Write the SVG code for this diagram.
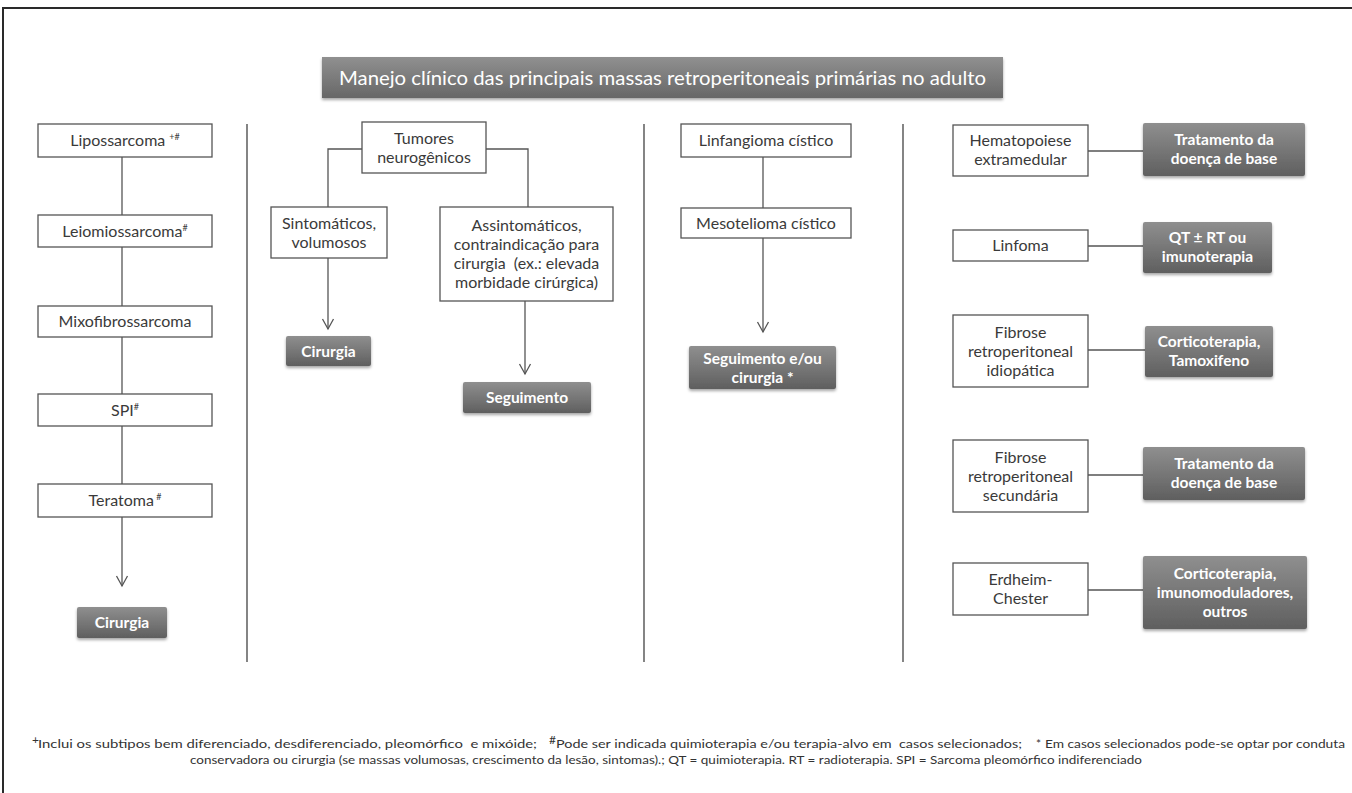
<svg xmlns="http://www.w3.org/2000/svg" width="1352" height="793" viewBox="0 0 1352 793">
<style>
.box{fill:#fff;stroke:#555;stroke-width:1.3}
.dark{fill:url(#gd);filter:url(#sh)}
.t{font-family:Lato,"Liberation Sans",sans-serif;font-size:16px;fill:#3a3a3a;text-anchor:middle}
.tw{font-family:Lato,"Liberation Sans",sans-serif;font-size:15.5px;fill:#fff;font-weight:bold;text-anchor:middle}
.sup{font-size:9px}
.ln{stroke:#555;stroke-width:1.3;fill:none}
.div{stroke:#666;stroke-width:1.6}
.fn{font-family:Lato,"Liberation Sans",sans-serif;font-size:12px;fill:#333}
</style>
<defs>
<linearGradient id="gd" x1="0" y1="0" x2="0" y2="1">
<stop offset="0" stop-color="#8f8f8f"/>
<stop offset="1" stop-color="#5f5f5f"/>
</linearGradient>
<linearGradient id="gt" x1="0" y1="0" x2="0" y2="1">
<stop offset="0" stop-color="#909090"/>
<stop offset="1" stop-color="#676767"/>
</linearGradient>
<filter id="sh" x="-10%" y="-10%" width="120%" height="140%">
<feDropShadow dx="0" dy="2" stdDeviation="1.5" flood-color="#000" flood-opacity="0.35"/>
</filter>
<marker id="ar" markerUnits="userSpaceOnUse" markerWidth="14" markerHeight="14" refX="10" refY="0" viewBox="-1 -7 13 14" orient="auto">
<path d="M0,-5.5 L10,0 L0,5.5" fill="none" stroke="#555" stroke-width="1.3"/>
</marker>
</defs>
<rect width="1352" height="793" fill="#fff"/>
<path d="M3,800 V8 H1360" fill="none" stroke="#2a2a2a" stroke-width="2"/>

<g id="title">
<rect x="322" y="57" width="681" height="41" fill="url(#gt)" filter="url(#sh)"/>
<text x="662.5" y="84.5" font-family="Lato,'Liberation Sans',sans-serif" font-size="19" fill="#fff" text-anchor="middle" textLength="647" lengthAdjust="spacingAndGlyphs">Manejo clínico das principais massas retroperitoneais primárias no adulto</text>
</g>

<g id="dividers">
<line class="div" x1="247" y1="124" x2="247" y2="662"/>
<line class="div" x1="644" y1="124" x2="644" y2="662"/>
<line class="div" x1="903" y1="124" x2="903" y2="662"/>
</g>

<g id="connectors">
<line class="ln" x1="122" y1="157" x2="122" y2="215"/>
<line class="ln" x1="122" y1="247" x2="122" y2="306"/>
<line class="ln" x1="122" y1="337" x2="122" y2="394"/>
<line class="ln" x1="122" y1="426" x2="122" y2="484"/>
<line class="ln" x1="122" y1="517" x2="122" y2="586" marker-end="url(#ar)"/>
<path class="ln" d="M362,149 H328 V207"/>
<path class="ln" d="M486,149 H528 V207"/>
<line class="ln" x1="328" y1="258" x2="328" y2="329" marker-end="url(#ar)"/>
<line class="ln" x1="525" y1="301" x2="525" y2="374" marker-end="url(#ar)"/>
<line class="ln" x1="763" y1="157" x2="763" y2="208"/>
<line class="ln" x1="763" y1="238" x2="763" y2="332" marker-end="url(#ar)"/>
<line class="ln" x1="1088" y1="151" x2="1143" y2="151"/>
<line class="ln" x1="1088" y1="246" x2="1143" y2="246"/>
<line class="ln" x1="1088" y1="350" x2="1145" y2="350"/>
<line class="ln" x1="1088" y1="475" x2="1143" y2="475"/>
<line class="ln" x1="1088" y1="590" x2="1143" y2="590"/>
</g>

<g id="lipossarcoma"><rect class="box" x="38" y="124" width="174" height="33"/><text class="t" x="125" y="146">Lipossarcoma <tspan class="sup" dy="-6">+#</tspan></text></g>
<g id="leiomiossarcoma"><rect class="box" x="38" y="215" width="174" height="32"/><text class="t" x="125" y="236.5">Leiomiossarcoma<tspan class="sup" dy="-6">#</tspan></text></g>
<g id="mixofibrossarcoma"><rect class="box" x="38" y="306" width="174" height="31"/><text class="t" x="125" y="327">Mixofibrossarcoma</text></g>
<g id="spi"><rect class="box" x="38" y="394" width="174" height="32"/><text class="t" x="125" y="415.5">SPI<tspan class="sup" dy="-6">#</tspan></text></g>
<g id="teratoma"><rect class="box" x="38" y="484" width="174" height="33"/><text class="t" x="125" y="506">Teratoma<tspan class="sup" dy="-6"> #</tspan></text></g>
<g id="cirurgia1"><rect class="dark" x="77" y="607" width="90" height="31" rx="2"/><text class="tw" x="122" y="628">Cirurgia</text></g>

<g id="tumores"><rect class="box" x="362" y="122" width="124" height="51"/><text class="t" x="424" y="143.5">Tumores</text><text class="t" x="424" y="162.5">neurogênicos</text></g>
<g id="sintomaticos"><rect class="box" x="271" y="207" width="116" height="51"/><text class="t" x="329" y="228.5">Sintomáticos,</text><text class="t" x="329" y="247.5">volumosos</text></g>
<g id="assintomaticos"><rect class="box" x="440" y="207" width="173" height="94"/><text class="t" x="526.5" y="231">Assintomáticos,</text><text class="t" x="526.5" y="250">contraindicação para</text><text class="t" x="526.5" y="269" xml:space="preserve">cirurgia  (ex.: elevada</text><text class="t" x="526.5" y="288">morbidade cirúrgica)</text></g>
<g id="cirurgia2"><rect class="dark" x="286" y="336" width="85" height="30" rx="2"/><text class="tw" x="328.5" y="356.5">Cirurgia</text></g>
<g id="seguimento"><rect class="dark" x="463" y="382" width="128" height="31" rx="2"/><text class="tw" x="527" y="403">Seguimento</text></g>

<g id="linfangioma"><rect class="box" x="681" y="124" width="170" height="33"/><text class="t" x="766" y="146">Linfangioma cístico</text></g>
<g id="mesotelioma"><rect class="box" x="681" y="208" width="170" height="30"/><text class="t" x="766" y="228.5">Mesotelioma cístico</text></g>
<g id="seguimento-cirurgia"><rect class="dark" x="689" y="346" width="147" height="43" rx="2"/><text class="tw" x="762.5" y="363.5">Seguimento e/ou</text><text class="tw" x="762.5" y="382.5">cirurgia *</text></g>

<g id="hematopoiese"><rect class="box" x="953" y="125" width="135" height="51"/><text class="t" x="1020.5" y="146">Hematopoiese</text><text class="t" x="1020.5" y="165">extramedular</text></g>
<g id="trat1"><rect class="dark" x="1143" y="123" width="162" height="53" rx="2"/><text class="tw" x="1224" y="145">Tratamento da</text><text class="tw" x="1224" y="164">doença de base</text></g>
<g id="linfoma"><rect class="box" x="953" y="230" width="135" height="31"/><text class="t" x="1020.5" y="251">Linfoma</text></g>
<g id="qt"><rect class="dark" x="1143" y="222" width="129" height="51" rx="2"/><text class="tw" x="1207.5" y="243">QT ± RT ou</text><text class="tw" x="1207.5" y="262">imunoterapia</text></g>
<g id="fibrose-idiopatica"><rect class="box" x="953" y="315" width="135" height="72"/><text class="t" x="1020.5" y="337.5">Fibrose</text><text class="t" x="1020.5" y="356.5">retroperitoneal</text><text class="t" x="1020.5" y="375.5">idiopática</text></g>
<g id="cortico1"><rect class="dark" x="1145" y="326" width="128" height="51" rx="2"/><text class="tw" x="1209" y="347">Corticoterapia,</text><text class="tw" x="1209" y="366">Tamoxifeno</text></g>
<g id="fibrose-secundaria"><rect class="box" x="953" y="440" width="135" height="72"/><text class="t" x="1020.5" y="462.5">Fibrose</text><text class="t" x="1020.5" y="481.5">retroperitoneal</text><text class="t" x="1020.5" y="500.5">secundária</text></g>
<g id="trat2"><rect class="dark" x="1143" y="447" width="162" height="53" rx="2"/><text class="tw" x="1224" y="469">Tratamento da</text><text class="tw" x="1224" y="488">doença de base</text></g>
<g id="erdheim"><rect class="box" x="953" y="563" width="135" height="52"/><text class="t" x="1020.5" y="585">Erdheim-</text><text class="t" x="1020.5" y="604">Chester</text></g>
<g id="cortico2"><rect class="dark" x="1143" y="556" width="164" height="73" rx="2"/><text class="tw" x="1225" y="579">Corticoterapia,</text><text class="tw" x="1225" y="598">imunomoduladores,</text><text class="tw" x="1225" y="617">outros</text></g>

<g id="footnote">
<text class="fn" x="32" y="744" font-size="8">+</text>
<text class="fn" x="38" y="748" textLength="499" lengthAdjust="spacingAndGlyphs" xml:space="preserve">Inclui os subtipos bem diferenciado, desdiferenciado, pleomórfico  e mixóide;</text>
<text class="fn" x="549" y="744" font-size="8">#</text>
<text class="fn" x="556" y="748" textLength="466" lengthAdjust="spacingAndGlyphs" xml:space="preserve">Pode ser indicada quimioterapia e/ou terapia-alvo em  casos selecionados;</text>
<text class="fn" x="1036" y="748">*</text>
<text class="fn" x="1045" y="748" textLength="300" lengthAdjust="spacingAndGlyphs">Em casos selecionados pode-se optar por conduta</text>
<text class="fn" x="190" y="764" textLength="952" lengthAdjust="spacingAndGlyphs">conservadora ou cirurgia (se massas volumosas, crescimento da lesão, sintomas).; QT = quimioterapia. RT = radioterapia. SPI = Sarcoma pleomórfico indiferenciado</text>
</g>
</svg>
